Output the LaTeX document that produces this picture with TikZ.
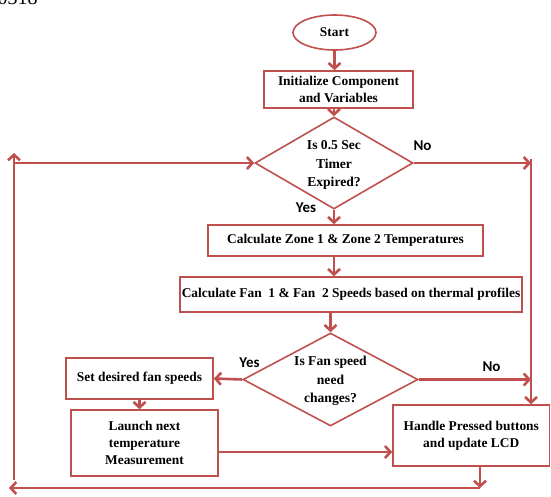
\documentclass[tikz,border=0pt]{standalone}
\usepackage{fontspec}
\setmainfont{Liberation Serif}
\newfontfamily\lblfont{Carlito}
\usetikzlibrary{shapes.geometric,arrows.meta}
\definecolor{lred}{HTML}{C0504D}
\begin{document}
\begin{tikzpicture}[x=1pt,y=-1pt,
  txt/.style={font=\bfseries\fontsize{13.4}{17}\selectfont,align=center},
  box/.style={txt,draw=lred,line width=1.6pt,rectangle,inner sep=0pt,fill=white},
  oval/.style={txt,draw=lred,line width=1.6pt,ellipse,inner sep=0pt,fill=white},
  diam/.style={draw=lred,line width=1.6pt,diamond,inner sep=0pt},
  dtxt/.style={font=\bfseries\fontsize{13.6}{18.5}\selectfont,align=center},
  lbl/.style={font=\lblfont\bfseries\fontsize{15}{15}\selectfont},
  conn/.style={draw=lred,line width=2.6pt,-{Straight Barb[length=5.5pt,width=12pt]}}]
\useasboundingbox (0,0) rectangle (551,496);
\node[anchor=base west,font=\fontsize{20}{20}\selectfont] (frag) at (-6,4) {0318};
% nodes
\node[oval,minimum width=83pt,minimum height=35pt] (start) at (334.5,32.5) {Start};
\node[box,minimum width=149pt,minimum height=37pt] (init) at (338.5,89.5) {Initialize Component\\and Variables};
\node[diam,minimum width=158pt,minimum height=92pt] (d1) at (334,163) {};
\node[dtxt] (d1t) at (334,165) {Is 0.5 Sec\\Timer\\Expired?};
\node[box,minimum width=275pt,minimum height=31pt] (zone) at (345.5,240.5) {Calculate Zone 1 \& Zone 2 Temperatures};
\node[box,minimum width=342pt,minimum height=35pt] (fan) at (351,294.5) {Calculate Fan\ \ 1 \& Fan\ \ 2 Speeds based on thermal profiles};
\node[diam,minimum width=175pt,minimum height=93pt] (d2) at (330.5,379.5) {};
\node[dtxt] (d2t) at (330.5,381) {Is Fan speed\\need\\changes?};
\node[box,minimum width=147pt,minimum height=41pt] (set) at (139.5,378.5) {Set desired fan speeds};
\node[box,minimum width=147pt,minimum height=66pt] (launch) at (144.5,443) {Launch next\\temperature\\Measurement};
\node[box,minimum width=156.5pt,minimum height=61pt] (handle) at (471.25,435.5) {Handle Pressed buttons\\and update LCD};
% labels
\node[lbl] (no1) at (422.5,146) {No};
\node[lbl] (yes1) at (306,208) {Yes};
\node[lbl] (yes2) at (249.5,363) {Yes};
\node[lbl] (no2) at (491.5,367) {No};
% helper coordinates
\coordinate (rtop) at (531,159);
\coordinate (lt) at (14,153);
\coordinate (lb) at (14,480);
\coordinate (hb) at (480,488);
\coordinate (bl) at (9,488);
\coordinate (lh) at (300,452);
% connectors
\draw[conn] (start.south) -- (start.south |- init.north);
\draw[conn] (d1.north |- init.south) -- (d1.north);
\draw[conn] (d1.south) -- (d1.south |- zone.north);
\draw[conn] (d1.south |- zone.south) -- (d1.south |- fan.north);
\draw[conn] (d2.north |- fan.south) -- (d2.north);
\draw[conn] (d1.east) -- (rtop |- d1.east);
\draw[draw=lred,line width=2.6pt] (rtop) -- (rtop |- d2.east);
\draw[conn] (rtop |- d2.east) -- (rtop |- handle.north);
\draw[conn] (d2.east) -- (rtop |- d2.east);
\draw[conn] (d2.west) -- (set.east);
\draw[conn] (set.south) -- (set.south |- launch.north);
\draw[conn] (launch.east |- lh) -- (handle.west |- lh);
\draw[conn] (hb |- handle.south) -- (hb);
\draw[conn] (hb) -- (bl);
\draw[conn] (lb) -- (lt);
\draw[conn] (lt |- d1.west) -- (d1.west);
\end{tikzpicture}
\end{document}
